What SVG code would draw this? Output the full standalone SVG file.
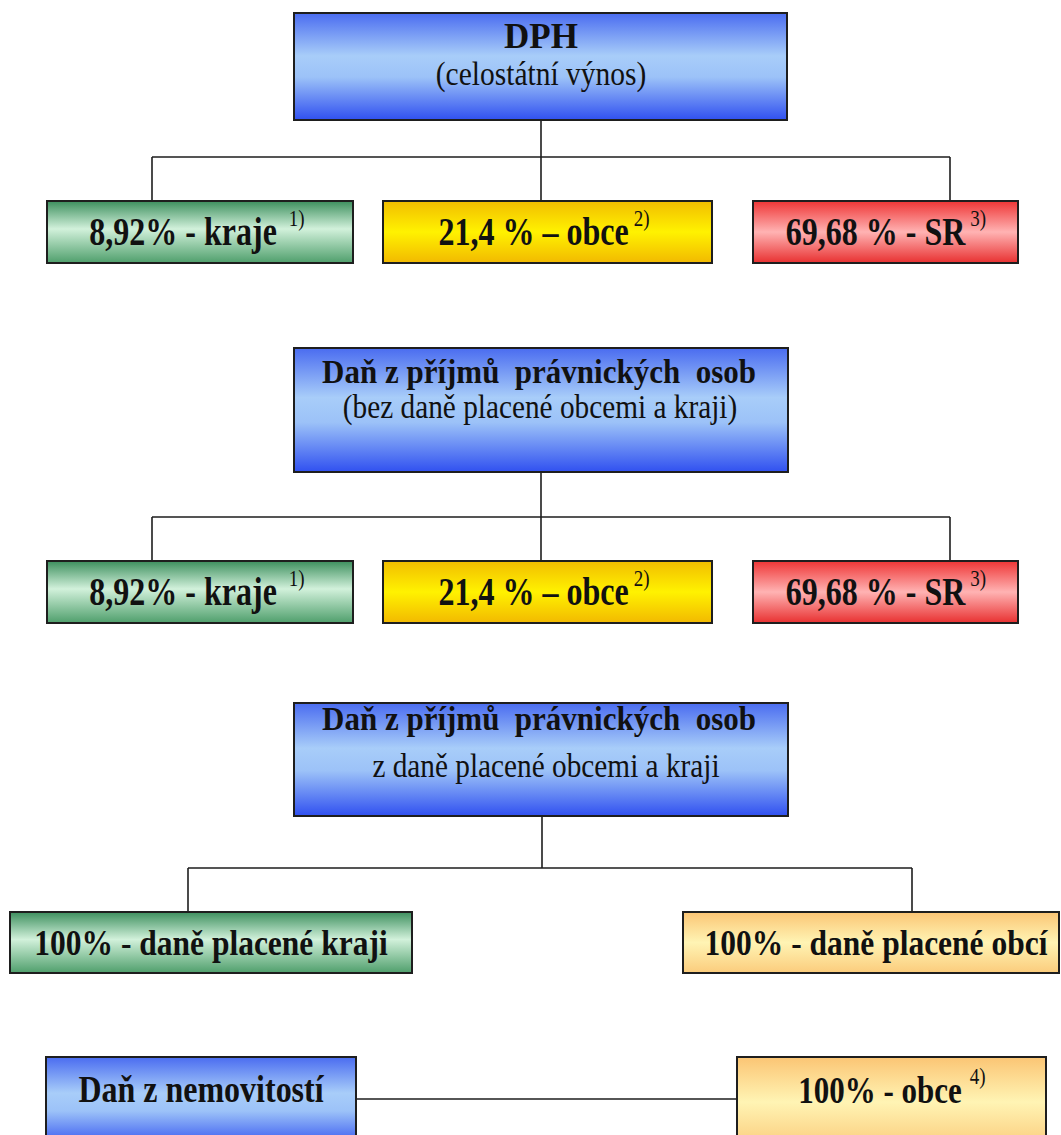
<svg xmlns="http://www.w3.org/2000/svg" width="1061" height="1135" viewBox="0 0 1061 1135">
<defs>
<linearGradient id="gBlue" x1="0" y1="0" x2="0" y2="1">
<stop offset="0" stop-color="#4a6cf0"/><stop offset="0.4" stop-color="#a8cdf9"/><stop offset="0.6" stop-color="#9cc2f8"/><stop offset="1" stop-color="#3050f0"/>
</linearGradient>
<linearGradient id="gGreen" x1="0" y1="0" x2="0" y2="1">
<stop offset="0" stop-color="#3d8f5e"/><stop offset="0.45" stop-color="#d2f1db"/><stop offset="1" stop-color="#4f9f6c"/>
</linearGradient>
<linearGradient id="gYellow" x1="0" y1="0" x2="0" y2="1">
<stop offset="0" stop-color="#f2bd00"/><stop offset="0.5" stop-color="#fff200"/><stop offset="1" stop-color="#f2b900"/>
</linearGradient>
<linearGradient id="gRed" x1="0" y1="0" x2="0" y2="1">
<stop offset="0" stop-color="#ee3535"/><stop offset="0.5" stop-color="#ffb3b3"/><stop offset="1" stop-color="#e83030"/>
</linearGradient>
<linearGradient id="gOrange" x1="0" y1="0" x2="0" y2="1">
<stop offset="0" stop-color="#fbc574"/><stop offset="0.5" stop-color="#fff4b4"/><stop offset="1" stop-color="#fbcc7c"/>
</linearGradient>
</defs>
<style>
.box{stroke:#1e1e1e;stroke-width:2}
.blue{fill:url(#gBlue)}.green{fill:url(#gGreen)}.yellow{fill:url(#gYellow)}.red{fill:url(#gRed)}.orange{fill:url(#gOrange)}
text{font-family:"Liberation Serif","Times New Roman",serif;fill:#111;text-anchor:middle}
.b{font-weight:bold}
.sup{font-weight:normal;font-size:19px}
.conn{stroke:#1e1e1e;stroke-width:1.6;fill:none}
</style>
<rect width="1061" height="1135" fill="#ffffff"/>
<g id="connectors">
<path class="conn" d="M541 120V157M152 157H950M152 157V201M541 157V201M950 157V201"/>
<path class="conn" d="M541 472V517M152 517H950M152 517V561M541 517V561M950 517V561"/>
<path class="conn" d="M542 816V868M188 868H912M188 868V912M912 868V912"/>
<path class="conn" d="M356 1099H737"/>
</g>
<g id="dph">
<rect class="box blue" x="294" y="13" width="493" height="107"/>
<text class="b" font-size="35" transform="translate(541,48)">DPH</text>
<text font-size="29.5" transform="translate(541,85) scale(1,1.15)">(celostátní výnos)</text>
</g>
<g id="r1-kraje">
<rect class="box green" x="47" y="201" width="306" height="62"/>
<text class="b" font-size="32" transform="translate(197,245) scale(1,1.25)">8,92% - kraje<tspan class="sup" dx="12" dy="-15">1)</tspan></text>
</g>
<g id="r1-obce">
<rect class="box yellow" x="383" y="201" width="329" height="62"/>
<text class="b" font-size="32" transform="translate(544,245) scale(1,1.25)">21,4 % – obce<tspan class="sup" dx="5" dy="-15">2)</tspan></text>
</g>
<g id="r1-sr">
<rect class="box red" x="753" y="201" width="265" height="62"/>
<text class="b" font-size="32" transform="translate(886,245) scale(1,1.25)">69,68 % - SR<tspan class="sup" dx="5" dy="-15">3)</tspan></text>
</g>
<g id="dppo1">
<rect class="box blue" x="294" y="348" width="494" height="124"/>
<text class="b" font-size="31" transform="translate(539,383) scale(1,1.1)" xml:space="preserve">Daň z příjmů  právnických  osob</text>
<text font-size="29.3" transform="translate(540,418) scale(1,1.15)">(bez daně placené obcemi a kraji)</text>
</g>
<g id="r2-kraje">
<rect class="box green" x="47" y="561" width="306" height="62"/>
<text class="b" font-size="32" transform="translate(197,605) scale(1,1.25)">8,92% - kraje<tspan class="sup" dx="12" dy="-15">1)</tspan></text>
</g>
<g id="r2-obce">
<rect class="box yellow" x="383" y="561" width="329" height="62"/>
<text class="b" font-size="32" transform="translate(544,605) scale(1,1.25)">21,4 % – obce<tspan class="sup" dx="5" dy="-15">2)</tspan></text>
</g>
<g id="r2-sr">
<rect class="box red" x="753" y="561" width="265" height="62"/>
<text class="b" font-size="32" transform="translate(886,605) scale(1,1.25)">69,68 % - SR<tspan class="sup" dx="5" dy="-15">3)</tspan></text>
</g>
<g id="dppo2">
<rect class="box blue" x="294" y="703" width="494" height="113"/>
<text class="b" font-size="31" transform="translate(539,730) scale(1,1.1)" xml:space="preserve">Daň z příjmů  právnických  osob</text>
<text font-size="29.3" transform="translate(546,777) scale(1,1.15)">z daně placené obcemi a kraji</text>
</g>
<g id="r3-kraje">
<rect class="box green" x="10" y="912" width="402" height="61"/>
<text class="b" font-size="31.5" transform="translate(211,955) scale(1,1.17)">100% - daně placené kraji</text>
</g>
<g id="r3-obce">
<rect class="box orange" x="683" y="912" width="376" height="61"/>
<text class="b" font-size="31.5" transform="translate(876,955) scale(1,1.17)">100% - daně placené obcí</text>
</g>
<g id="nemovitosti">
<rect class="box blue" x="46" y="1057" width="310" height="90"/>
<text class="b" font-size="32" transform="translate(201,1102) scale(1,1.18)">Daň z nemovitostí</text>
</g>
<g id="r4-obce">
<rect class="box orange" x="737" y="1057" width="309" height="90"/>
<text class="b" font-size="31" transform="translate(892,1103) scale(1,1.25)">100% - obce<tspan class="sup" dx="8" dy="-15">4)</tspan></text>
</g>
</svg>
